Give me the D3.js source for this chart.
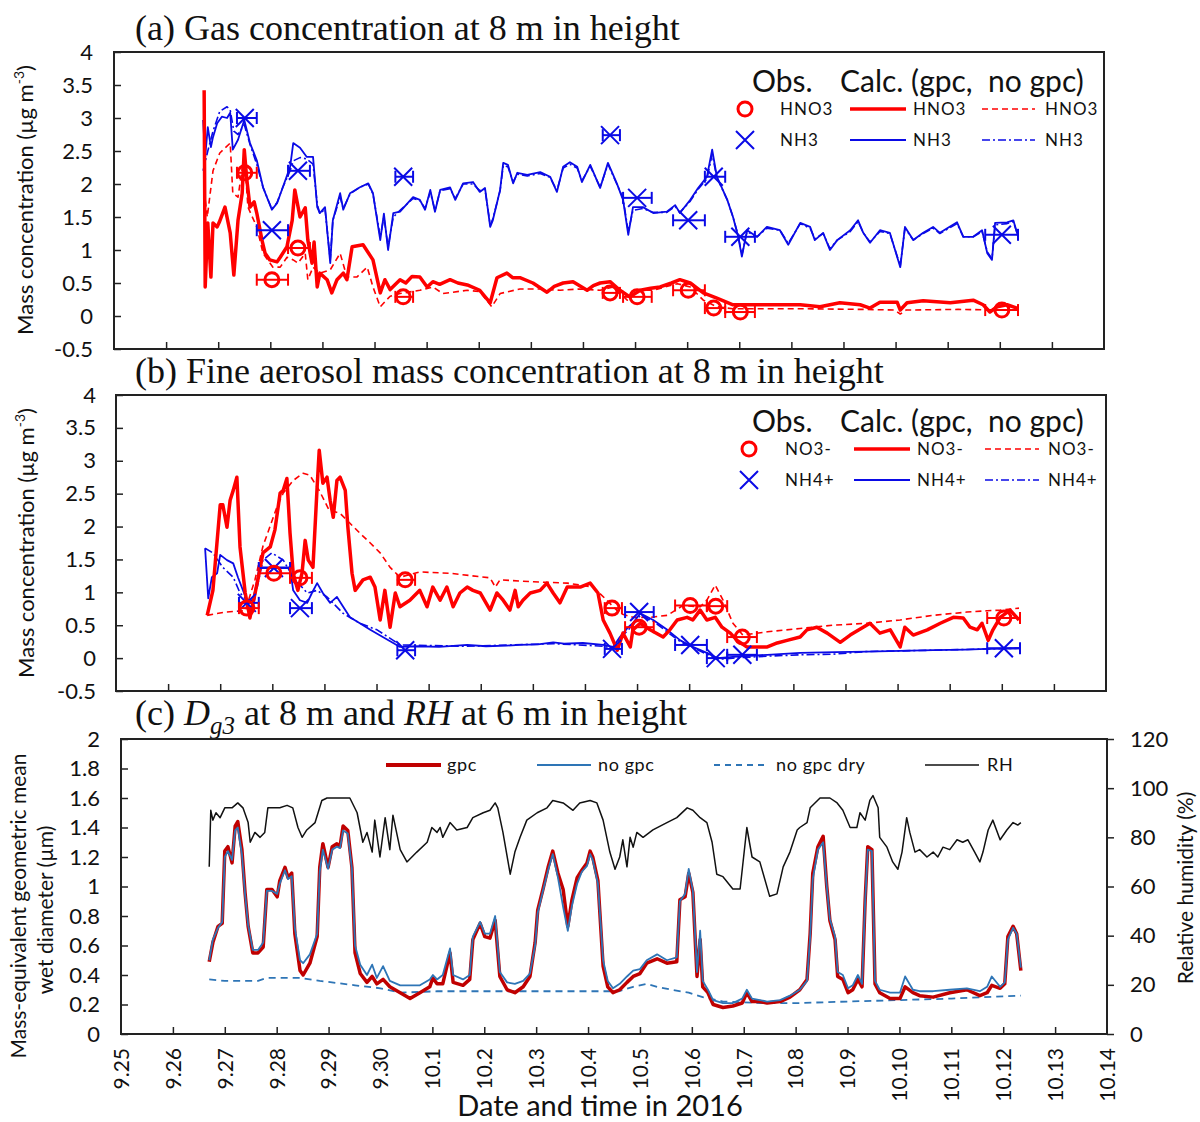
<!DOCTYPE html>
<html>
<head>
<meta charset="utf-8">
<script src="https://cdn.jsdelivr.net/npm/d3@7"></script>
<style>
  body { margin: 0; background: #fff; }
  text { white-space: pre; }
</style>
</head>
<body>
<svg id="chart" width="1200" height="1122"></svg>
<script>
// ---- x axis: days since 25 Sep 2016, 00:00 ----
const dateLabels = ["9.25","9.26","9.27","9.28","9.29","9.30","10.1","10.2","10.3","10.4",
  "10.5","10.6","10.7","10.8","10.9","10.10","10.11","10.12","10.13","10.14"];

// ---- observation periods (filter sampling) ----
const obsDay = [2.51, 3.03, 3.53, 5.55, 9.52, 10.04, 11.02, 11.51, 12.02, 17.04];
const obsLo  = [2.36, 2.74, 3.34, 5.40, 9.38, 9.77, 10.73, 11.34, 11.73, 16.72];
const obsHi  = [2.74, 3.34, 3.76, 5.74, 9.71, 10.32, 11.34, 11.73, 12.30, 17.35];

// observed gases (µg m-3)
const hno3Obs = [2.17, 0.55, 1.03, 0.29, 0.35, 0.29, 0.39, 0.12, 0.06, 0.09];
const nh3Obs  = [3.00, 1.30, 2.20, 2.11, 2.74, 1.79, 1.45, 2.11, 1.20, 1.23];
// observed fine aerosol (µg m-3)
const no3Obs  = [0.76, 1.29, 1.22, 1.19, 0.76, 0.47, 0.80, 0.79, 0.32, 0.61];
const nh4Obs  = [0.84, 1.37, 0.76, 0.12, 0.14, 0.70, 0.20, 0.00, 0.05, 0.15];

// ---- calculated gases [day, µg m-3] ----
const hno3Gpc = [[1.73,3.42],[1.75,0.44],[1.80,1.41],[1.86,0.59],[1.90,1.41],[1.98,1.35],[2.02,1.42],[2.13,1.65],[2.23,1.26],[2.30,0.62],[2.38,1.45],[2.46,1.86],[2.50,2.52],[2.55,2.06],[2.61,1.65],[2.69,1.73],[2.74,1.56],[2.84,1.15],[2.90,0.95],[2.99,0.85],[3.13,0.82],[3.19,0.89],[3.32,1.05],[3.42,1.45],[3.47,1.91],[3.57,1.50],[3.67,1.64],[3.72,1.15],[3.80,0.80],[3.84,1.12],[3.90,0.44],[3.95,0.65],[4.09,0.55],[4.18,0.35],[4.28,0.55],[4.40,0.65],[4.47,0.55],[4.57,1.05],[4.78,1.08],[4.97,0.85],[5.11,0.35],[5.20,0.55],[5.30,0.40],[5.49,0.55],[5.60,0.50],[5.72,0.60],[5.87,0.59],[6.01,0.44],[6.12,0.52],[6.25,0.48],[6.45,0.55],[6.60,0.50],[6.78,0.47],[7.02,0.39],[7.22,0.20],[7.35,0.58],[7.54,0.65],[7.65,0.58],[7.79,0.58],[8.04,0.50],[8.31,0.36],[8.45,0.45],[8.62,0.50],[8.81,0.52],[9.08,0.39],[9.20,0.46],[9.33,0.50],[9.52,0.52],[9.71,0.39],[9.90,0.29],[10.10,0.39],[10.30,0.42],[10.48,0.44],[10.70,0.50],[10.86,0.55],[11.06,0.50],[11.31,0.35],[11.57,0.27],[11.88,0.17],[12.21,0.17],[13.17,0.17],[13.55,0.14],[13.93,0.20],[14.32,0.17],[14.51,0.12],[14.70,0.21],[15.03,0.21],[15.09,0.09],[15.22,0.20],[15.53,0.23],[16.05,0.20],[16.49,0.24],[16.68,0.17],[16.81,0.06],[16.95,0.14],[17.14,0.17],[17.33,0.12],[17.35,0.12]];

const hno3NoGpc = [[1.73,1.90],[1.79,1.50],[1.90,2.20],[2.03,2.47],[2.23,2.62],[2.28,1.86],[2.38,1.80],[2.50,2.45],[2.57,1.65],[2.74,1.35],[2.86,0.95],[3.05,0.74],[3.19,0.74],[3.32,0.89],[3.44,0.85],[3.53,0.80],[3.67,0.95],[3.72,0.55],[3.82,0.74],[3.95,0.65],[4.15,0.70],[4.34,0.95],[4.47,0.59],[4.66,0.59],[4.86,0.74],[4.97,0.44],[5.11,0.14],[5.30,0.30],[5.49,0.34],[5.87,0.39],[6.12,0.44],[6.31,0.34],[6.78,0.39],[7.02,0.37],[7.25,0.14],[7.41,0.34],[7.79,0.41],[8.18,0.41],[8.56,0.39],[8.94,0.41],[9.33,0.39],[9.58,0.44],[9.85,0.24],[9.96,0.39],[10.35,0.39],[10.81,0.49],[11.06,0.44],[11.31,0.24],[11.57,0.14],[11.88,0.11],[13.17,0.11],[14.40,0.10],[14.98,0.09],[15.09,0.03],[15.20,0.09],[16.20,0.10],[17.01,0.09],[17.35,0.09]];

const nh3Gpc = [[1.71,2.97],[1.75,2.41],[1.80,2.86],[1.86,2.56],[1.90,2.71],[1.98,2.92],[2.07,3.02],[2.17,3.00],[2.23,3.08],[2.28,2.52],[2.38,2.67],[2.50,2.97],[2.61,2.62],[2.74,2.36],[2.86,1.95],[3.03,1.61],[3.13,1.71],[3.24,1.95],[3.38,2.26],[3.44,2.62],[3.57,2.55],[3.70,2.41],[3.82,2.41],[3.90,1.65],[3.95,1.56],[4.05,1.65],[4.15,0.80],[4.20,1.45],[4.34,1.86],[4.40,1.61],[4.53,1.86],[4.72,1.95],[4.88,2.01],[4.97,1.86],[5.11,1.15],[5.18,1.55],[5.26,1.00],[5.36,1.56],[5.49,1.58],[5.74,1.80],[5.87,1.76],[5.97,1.61],[6.07,1.91],[6.16,1.58],[6.26,1.91],[6.45,1.95],[6.55,1.76],[6.70,2.01],[6.89,2.03],[7.02,1.88],[7.12,1.94],[7.22,1.35],[7.27,1.45],[7.41,1.91],[7.47,2.32],[7.56,2.29],[7.66,2.01],[7.74,2.17],[7.93,2.14],[8.18,2.18],[8.37,2.11],[8.50,1.88],[8.62,2.26],[8.75,2.33],[8.89,2.26],[8.98,2.03],[9.14,2.29],[9.33,1.94],[9.48,2.32],[9.65,2.01],[9.77,1.76],[9.87,1.23],[9.96,1.65],[10.15,1.65],[10.35,1.56],[10.61,1.58],[10.77,1.68],[10.86,1.56],[11.06,1.76],[11.21,1.94],[11.38,2.11],[11.48,2.52],[11.57,2.11],[11.77,1.76],[11.88,1.50],[11.98,1.20],[12.05,0.90],[12.15,1.30],[12.34,1.20],[12.53,1.35],[12.78,1.30],[12.94,1.08],[13.17,1.41],[13.36,1.35],[13.45,1.15],[13.61,1.26],[13.74,1.00],[13.88,1.15],[14.13,1.30],[14.28,1.45],[14.38,1.26],[14.51,1.11],[14.70,1.30],[14.89,1.26],[15.09,0.74],[15.18,1.35],[15.34,1.15],[15.53,1.26],[15.72,1.35],[15.85,1.26],[16.18,1.42],[16.30,1.20],[16.49,1.20],[16.66,1.30],[16.76,0.95],[16.85,0.85],[16.91,1.41],[17.14,1.42],[17.26,1.45],[17.33,1.26],[17.35,1.20]];

const nh3NoGpc = [[1.71,2.20],[1.80,2.50],[1.90,2.80],[2.03,3.10],[2.17,3.17],[2.23,3.12],[2.30,2.80],[2.38,2.75],[2.50,2.90],[2.61,2.60],[2.74,2.30],[2.86,1.95],[3.03,1.62],[3.13,1.72],[3.24,1.95],[3.38,2.20],[3.44,2.35],[3.57,2.40],[3.70,2.38],[3.82,2.30],[3.90,1.70],[3.95,1.55],[4.05,1.62],[4.15,0.85],[4.20,1.45],[4.34,1.80],[4.40,1.63],[4.53,1.85],[4.72,1.95],[4.88,2.00],[4.97,1.85],[5.11,1.20],[5.18,1.50],[5.26,1.05],[5.36,1.50],[5.49,1.60],[5.74,1.78],[5.87,1.75],[5.97,1.63],[6.07,1.88],[6.16,1.60],[6.26,1.90],[6.45,1.93],[6.55,1.78],[6.70,2.00],[6.89,2.00],[7.02,1.90],[7.12,1.92],[7.22,1.38],[7.27,1.47],[7.41,1.90],[7.47,2.28],[7.56,2.26],[7.66,2.03],[7.74,2.15],[7.93,2.12],[8.18,2.16],[8.37,2.10],[8.50,1.90],[8.62,2.24],[8.75,2.30],[8.89,2.24],[8.98,2.05],[9.14,2.27],[9.33,1.95],[9.48,2.30],[9.65,2.00],[9.77,1.78],[9.87,1.28],[9.96,1.60],[10.15,1.63],[10.35,1.57],[10.61,1.57],[10.77,1.66],[10.86,1.57],[11.06,1.74],[11.21,1.92],[11.38,2.08],[11.48,2.45],[11.57,2.10],[11.77,1.76],[11.88,1.50],[11.98,1.22],[12.05,0.92],[12.15,1.28],[12.34,1.20],[12.53,1.33],[12.78,1.30],[12.94,1.10],[13.17,1.40],[13.36,1.33],[13.45,1.17],[13.61,1.25],[13.74,1.02],[13.88,1.15],[14.13,1.28],[14.28,1.43],[14.38,1.26],[14.51,1.12],[14.70,1.28],[14.89,1.25],[15.09,0.76],[15.18,1.33],[15.34,1.15],[15.53,1.25],[15.72,1.33],[15.85,1.25],[16.18,1.40],[16.30,1.20],[16.49,1.20],[16.66,1.28],[16.76,0.97],[16.85,0.87],[16.91,1.38],[17.14,1.40],[17.26,1.43],[17.33,1.26],[17.35,1.22]];

// ---- calculated fine aerosol [day, µg m-3] ----
const no3Gpc = [[1.75,0.65],[1.86,1.03],[2.00,2.33],[2.05,2.33],[2.13,1.99],[2.19,2.40],[2.25,2.55],[2.32,2.75],[2.38,1.69],[2.48,0.99],[2.57,0.61],[2.67,0.99],[2.76,1.34],[2.82,1.60],[2.96,1.69],[3.05,1.95],[3.15,2.51],[3.21,2.55],[3.28,2.73],[3.34,1.90],[3.40,1.29],[3.49,1.03],[3.57,1.29],[3.63,1.79],[3.69,1.49],[3.78,1.38],[3.86,2.60],[3.90,3.16],[3.97,2.66],[4.05,2.75],[4.11,2.40],[4.17,2.14],[4.24,2.70],[4.30,2.75],[4.40,2.55],[4.45,1.99],[4.53,1.29],[4.59,1.03],[4.74,1.19],[4.88,1.23],[4.97,1.08],[5.07,0.58],[5.16,1.03],[5.26,0.47],[5.36,0.99],[5.45,0.78],[5.64,0.88],[5.83,1.03],[5.97,0.78],[6.08,1.08],[6.22,0.88],[6.35,1.08],[6.47,0.78],[6.60,0.99],[6.74,1.08],[6.85,1.03],[6.99,0.99],[7.18,0.73],[7.31,0.99],[7.43,0.88],[7.56,0.73],[7.66,1.03],[7.72,0.78],[7.81,0.88],[7.95,0.99],[8.14,1.03],[8.27,1.14],[8.39,0.99],[8.52,0.84],[8.66,1.08],[8.91,1.08],[9.10,1.14],[9.25,0.99],[9.35,0.58],[9.48,0.38],[9.62,0.12],[9.73,0.38],[9.87,0.17],[9.92,0.43],[10.06,0.53],[10.25,0.43],[10.50,0.32],[10.63,0.43],[10.77,0.58],[10.96,0.62],[11.07,0.58],[11.21,0.73],[11.34,0.58],[11.50,0.62],[11.63,0.47],[11.79,0.38],[11.92,0.27],[12.11,0.17],[12.50,0.17],[12.69,0.23],[12.88,0.27],[13.13,0.32],[13.26,0.43],[13.45,0.47],[13.65,0.38],[13.90,0.24],[14.09,0.35],[14.34,0.47],[14.47,0.53],[14.66,0.38],[14.86,0.43],[15.05,0.17],[15.14,0.47],[15.30,0.35],[15.57,0.43],[15.82,0.53],[16.07,0.62],[16.26,0.61],[16.39,0.47],[16.53,0.43],[16.62,0.53],[16.74,0.27],[16.83,0.43],[16.97,0.62],[17.16,0.73],[17.33,0.58]];

const no3NoGpc = [[1.75,0.65],[2.10,0.70],[2.48,0.72],[2.67,1.20],[2.82,1.70],[3.09,2.30],[3.21,2.51],[3.40,2.70],[3.59,2.81],[3.72,2.78],[3.90,2.55],[4.09,2.25],[4.30,2.20],[4.49,2.05],[4.68,1.90],[4.88,1.75],[5.07,1.60],[5.26,1.38],[5.45,1.23],[5.83,1.31],[6.41,1.29],[7.18,1.22],[7.28,1.08],[7.37,1.19],[8.01,1.16],[8.66,1.14],[9.16,1.08],[9.42,0.88],[9.67,0.68],[9.92,0.62],[10.25,0.62],[10.58,0.65],[10.88,0.80],[11.21,0.78],[11.34,0.88],[11.50,1.11],[11.65,0.88],[11.84,0.53],[12.03,0.35],[12.50,0.40],[13.13,0.45],[13.76,0.50],[14.41,0.53],[15.05,0.58],[15.68,0.65],[16.33,0.70],[16.72,0.72],[16.97,0.73],[17.33,0.76]];

const nh4Gpc = [[1.71,1.67],[1.77,0.91],[1.84,1.23],[1.94,1.29],[2.00,1.57],[2.13,1.49],[2.25,1.44],[2.34,1.23],[2.51,0.88],[2.63,0.88],[2.76,1.38],[2.90,1.38],[3.09,1.38],[3.34,1.38],[3.40,1.03],[3.53,0.88],[3.67,0.84],[3.76,0.99],[3.86,1.14],[3.97,0.99],[4.11,0.84],[4.24,0.93],[4.36,0.78],[4.49,0.62],[4.68,0.53],[4.88,0.43],[5.12,0.32],[5.32,0.23],[5.45,0.17],[5.80,0.18],[6.20,0.17],[6.74,0.20],[7.10,0.18],[7.50,0.19],[7.75,0.20],[8.10,0.21],[8.39,0.24],[8.60,0.22],[8.96,0.23],[9.35,0.20],[9.54,0.17],[9.67,0.32],[9.83,0.47],[9.92,0.53],[10.06,0.68],[10.31,0.58],[10.58,0.43],[10.83,0.27],[11.07,0.17],[11.34,0.08],[11.54,0.00],[11.84,0.02],[12.50,0.05],[13.13,0.08],[13.80,0.09],[14.41,0.10],[15.05,0.11],[15.68,0.12],[16.30,0.13],[16.72,0.14],[17.33,0.15]];

const nh4NoGpc = [[1.71,1.67],[1.86,1.60],[2.05,1.38],[2.25,1.23],[2.38,0.99],[2.63,0.78],[2.82,1.49],[2.99,1.60],[3.21,1.49],[3.40,1.23],[3.67,0.99],[3.86,1.03],[4.05,0.93],[4.36,0.68],[4.68,0.53],[5.01,0.43],[5.32,0.27],[5.45,0.20],[6.74,0.18],[8.39,0.22],[9.35,0.18],[9.54,0.15],[9.67,0.30],[9.92,0.50],[10.06,0.65],[10.31,0.56],[10.83,0.25],[11.34,0.06],[11.54,-0.02],[11.84,0.00],[12.50,0.03],[13.13,0.05],[13.76,0.06],[14.41,0.10],[15.68,0.12],[17.33,0.15]];

// ---- Dg3 [day, µm] and RH [day, %] ----
const dg3Gpc = [[1.70,0.49],[1.77,0.62],[1.87,0.73],[1.95,0.75],[2.00,1.24],[2.06,1.27],[2.14,1.16],[2.20,1.41],[2.25,1.44],[2.33,1.25],[2.39,0.96],[2.45,0.73],[2.54,0.55],[2.64,0.55],[2.74,0.59],[2.81,0.98],[2.91,0.98],[3.01,0.93],[3.06,1.04],[3.16,1.13],[3.22,1.06],[3.29,1.09],[3.35,0.68],[3.45,0.43],[3.51,0.40],[3.64,0.48],[3.78,0.66],[3.83,1.13],[3.89,1.29],[3.99,1.13],[4.07,1.27],[4.16,1.29],[4.22,1.27],[4.28,1.41],[4.37,1.38],[4.45,1.13],[4.51,0.55],[4.61,0.41],[4.74,0.35],[4.84,0.39],[4.93,0.34],[5.05,0.37],[5.18,0.32],[5.38,0.28],[5.57,0.24],[5.76,0.28],[5.95,0.32],[6.01,0.38],[6.09,0.34],[6.20,0.34],[6.34,0.55],[6.40,0.35],[6.59,0.33],[6.72,0.37],[6.78,0.64],[6.92,0.75],[7.01,0.66],[7.11,0.65],[7.21,0.77],[7.30,0.39],[7.44,0.30],[7.59,0.28],[7.75,0.32],[7.88,0.39],[7.98,0.62],[8.03,0.84],[8.13,0.98],[8.23,1.13],[8.32,1.24],[8.42,1.09],[8.52,0.98],[8.61,0.73],[8.69,0.91],[8.79,1.06],[8.88,1.11],[8.98,1.16],[9.04,1.24],[9.09,1.20],[9.19,1.04],[9.29,0.46],[9.38,0.32],[9.48,0.28],[9.61,0.30],[9.75,0.35],[9.87,0.39],[10.00,0.41],[10.13,0.48],[10.33,0.51],[10.52,0.48],[10.71,0.49],[10.77,0.91],[10.87,0.93],[10.94,1.09],[11.02,0.96],[11.10,0.39],[11.16,0.64],[11.21,0.32],[11.31,0.28],[11.41,0.20],[11.60,0.18],[11.79,0.19],[11.97,0.21],[12.06,0.28],[12.16,0.22],[12.31,0.22],[12.45,0.21],[12.70,0.22],[12.89,0.25],[13.08,0.30],[13.22,0.37],[13.28,0.68],[13.33,1.09],[13.43,1.27],[13.53,1.34],[13.60,1.00],[13.66,0.77],[13.76,0.64],[13.81,0.39],[13.91,0.37],[14.01,0.28],[14.10,0.30],[14.20,0.37],[14.28,0.32],[14.34,0.91],[14.39,1.27],[14.47,1.25],[14.53,0.34],[14.62,0.28],[14.82,0.24],[15.01,0.24],[15.11,0.32],[15.26,0.28],[15.39,0.26],[15.65,0.25],[15.97,0.28],[16.30,0.30],[16.55,0.26],[16.69,0.28],[16.78,0.33],[16.94,0.31],[17.03,0.34],[17.09,0.66],[17.19,0.73],[17.26,0.68],[17.34,0.43]];

const dg3NoGpc = [[1.70,0.50],[1.77,0.64],[1.87,0.72],[1.95,0.76],[2.00,1.20],[2.06,1.24],[2.14,1.18],[2.20,1.38],[2.25,1.40],[2.33,1.22],[2.39,0.95],[2.45,0.74],[2.54,0.57],[2.64,0.57],[2.74,0.62],[2.81,0.97],[2.91,0.97],[3.01,0.95],[3.06,1.02],[3.16,1.11],[3.22,1.05],[3.29,1.07],[3.35,0.72],[3.45,0.50],[3.51,0.48],[3.64,0.54],[3.78,0.68],[3.83,1.10],[3.89,1.25],[3.99,1.12],[4.07,1.25],[4.16,1.27],[4.22,1.26],[4.28,1.38],[4.37,1.36],[4.45,1.12],[4.51,0.60],[4.61,0.47],[4.74,0.40],[4.84,0.47],[4.93,0.38],[5.05,0.46],[5.18,0.36],[5.38,0.33],[5.57,0.33],[5.76,0.33],[5.95,0.37],[6.01,0.40],[6.09,0.37],[6.20,0.40],[6.34,0.58],[6.40,0.40],[6.59,0.37],[6.72,0.40],[6.78,0.66],[6.92,0.76],[7.01,0.68],[7.11,0.68],[7.21,0.80],[7.30,0.42],[7.44,0.35],[7.59,0.34],[7.75,0.36],[7.88,0.41],[7.98,0.60],[8.03,0.82],[8.13,0.97],[8.23,1.11],[8.32,1.22],[8.42,1.06],[8.52,0.86],[8.61,0.70],[8.69,0.87],[8.79,1.02],[8.88,1.10],[8.98,1.14],[9.04,1.22],[9.09,1.18],[9.19,1.02],[9.29,0.50],[9.38,0.36],[9.48,0.31],[9.61,0.34],[9.75,0.39],[9.87,0.43],[10.00,0.44],[10.13,0.50],[10.33,0.54],[10.52,0.50],[10.71,0.52],[10.77,0.90],[10.87,0.95],[10.94,1.12],[11.02,0.97],[11.10,0.42],[11.16,0.70],[11.21,0.36],[11.31,0.30],[11.41,0.23],[11.60,0.21],[11.79,0.21],[11.97,0.24],[12.06,0.30],[12.16,0.24],[12.31,0.23],[12.45,0.22],[12.70,0.23],[12.89,0.26],[13.08,0.30],[13.22,0.36],[13.28,0.66],[13.33,1.05],[13.43,1.25],[13.53,1.30],[13.60,1.00],[13.66,0.78],[13.76,0.66],[13.81,0.42],[13.91,0.40],[14.01,0.31],[14.10,0.33],[14.20,0.40],[14.28,0.34],[14.34,0.90],[14.39,1.25],[14.47,1.24],[14.53,0.36],[14.62,0.30],[14.82,0.28],[15.01,0.28],[15.11,0.39],[15.26,0.30],[15.39,0.29],[15.65,0.29],[15.97,0.30],[16.30,0.31],[16.55,0.29],[16.69,0.32],[16.78,0.39],[16.94,0.32],[17.03,0.35],[17.09,0.64],[17.19,0.72],[17.26,0.68],[17.34,0.45]];

const dg3Dry = [[1.70,0.37],[2.00,0.36],[2.64,0.36],[2.81,0.38],[3.45,0.38],[3.83,0.36],[4.51,0.33],[5.00,0.31],[5.38,0.28],[6.09,0.29],[7.00,0.29],[8.00,0.29],[9.00,0.29],[9.60,0.29],[9.87,0.32],[10.13,0.34],[10.33,0.32],[10.61,0.30],[10.94,0.28],[11.21,0.25],[11.60,0.22],[12.31,0.21],[13.08,0.21],[14.00,0.22],[15.01,0.23],[16.00,0.24],[17.34,0.26]];

const rh = [[1.70,68],[1.73,91],[1.77,87],[1.83,90],[1.91,88],[2.00,92],[2.14,92],[2.25,94],[2.35,92],[2.45,86],[2.49,78],[2.58,82],[2.68,80],[2.77,82],[2.83,92],[2.93,92],[3.06,92],[3.20,93],[3.31,92],[3.41,84],[3.49,80],[3.58,83],[3.74,86],[3.87,95],[3.97,96],[4.08,96],[4.22,96],[4.41,96],[4.55,90],[4.66,78],[4.74,82],[4.84,74],[4.89,87],[4.99,72],[5.09,88],[5.18,75],[5.24,89],[5.38,75],[5.51,70],[5.70,74],[5.90,78],[5.99,84],[6.09,82],[6.15,84],[6.20,80],[6.34,86],[6.47,83],[6.67,84],[6.78,88],[6.98,90],[7.11,91],[7.21,94],[7.26,92],[7.36,82],[7.50,65],[7.59,74],[7.69,80],[7.82,87],[8.02,90],[8.21,92],[8.32,95],[8.52,94],[8.71,91],[8.84,94],[9.04,95],[9.17,94],[9.29,87],[9.42,74],[9.52,67],[9.61,72],[9.67,79],[9.75,68],[9.81,80],[9.87,76],[9.94,82],[10.06,80],[10.25,83],[10.52,86],[10.71,88],[10.91,92],[11.02,91],[11.16,88],[11.29,86],[11.39,78],[11.48,65],[11.60,64],[11.79,59],[11.93,59],[12.06,84],[12.16,72],[12.31,70],[12.50,56],[12.64,57],[12.76,68],[12.89,74],[13.03,83],[13.08,84],[13.22,86],[13.28,92],[13.47,96],[13.66,96],[13.80,94],[13.91,91],[14.05,84],[14.18,84],[14.24,90],[14.34,87],[14.43,95],[14.49,97],[14.59,92],[14.62,80],[14.76,76],[14.87,70],[14.97,67],[15.05,74],[15.14,88],[15.20,82],[15.30,74],[15.39,75],[15.53,72],[15.65,74],[15.74,72],[15.84,76],[15.97,75],[16.11,79],[16.22,78],[16.32,79],[16.45,74],[16.55,70],[16.61,74],[16.71,83],[16.80,87],[16.94,79],[17.07,83],[17.19,86],[17.28,85],[17.34,86]];

// tick values
const concTicks = [-0.5, 0, 0.5, 1, 1.5, 2, 2.5, 3, 3.5, 4];
const dgTicks = [0, 0.2, 0.4, 0.6, 0.8, 1, 1.2, 1.4, 1.6, 1.8, 2];
const rhTicks = [0, 20, 40, 60, 80, 100, 120];

// ---- drawing ----
const SANS = "Lato, 'Open Sans', sans-serif";
const SERIF = "'Liberation Serif', 'Times New Roman', serif";
const RED = "#ff0000", BLUE = "#0a0ae6";
const svg = d3.select("#chart");

function frameAxes(box, yDomain, yTicks, padY) {
  const x = d3.scaleLinear().domain([0, 19]).range([box.l, box.r]);
  const y = d3.scaleLinear().domain(yDomain).range([box.b, box.t]);
  const g = svg.append("g");
  const yAx = g.append("g").attr("transform", `translate(${box.l},0)`)
    .call(d3.axisLeft(y).tickValues(yTicks).tickSizeInner(-7).tickSizeOuter(0)
      .tickPadding(padY).tickFormat(d => String(d)));
  yAx.select(".domain").remove();
  yAx.selectAll("text").attr("font-family", SANS).attr("font-size", 22).attr("fill", "#111");
  yAx.selectAll("line").attr("stroke", "#222").attr("stroke-width", 1.5);
  const xAx = g.append("g").attr("transform", `translate(0,${box.b})`)
    .call(d3.axisBottom(x).tickValues(d3.range(1, 19)).tickSizeInner(-7).tickSizeOuter(0).tickFormat(""));
  xAx.select(".domain").remove();
  xAx.selectAll("line").attr("stroke", "#222").attr("stroke-width", 1.5);
  g.append("rect").attr("x", box.l).attr("y", box.t).attr("width", box.r - box.l)
    .attr("height", box.b - box.t).attr("fill", "none").attr("stroke", "#222").attr("stroke-width", 2);
  return { x, y, g, xAx };
}

function drawLine(g, x, y, data, color, width, dash) {
  g.append("path").datum(data)
    .attr("d", d3.line().x(d => x(d[0])).y(d => y(d[1])))
    .attr("fill", "none").attr("stroke", color).attr("stroke-width", width)
    .attr("stroke-linejoin", "round")
    .attr("stroke-dasharray", dash || null);
}

function errorBars(g, x, y, vals, color) {
  vals.forEach((v, i) => {
    const yy = y(v), x0 = x(obsLo[i]), x1 = x(obsHi[i]);
    g.append("line").attr("x1", x0).attr("x2", x1).attr("y1", yy).attr("y2", yy)
      .attr("stroke", color).attr("stroke-width", 2);
    [x0, x1].forEach(xx => g.append("line").attr("x1", xx).attr("x2", xx)
      .attr("y1", yy - 6).attr("y2", yy + 6).attr("stroke", color).attr("stroke-width", 2));
  });
}
function circleMark(g, cx, cy) {
  g.append("circle").attr("cx", cx).attr("cy", cy).attr("r", 7)
    .attr("fill", "none").attr("stroke", RED).attr("stroke-width", 3);
}
function crossMark(g, cx, cy) {
  const s = 9;
  g.append("path").attr("d", `M${cx - s},${cy - s}L${cx + s},${cy + s}M${cx - s},${cy + s}L${cx + s},${cy - s}`)
    .attr("stroke", BLUE).attr("stroke-width", 2).attr("fill", "none");
}

function title(yBase, parts) {
  const t = svg.append("text").attr("x", 135).attr("y", yBase)
    .attr("font-family", SERIF).attr("font-size", 36).attr("fill", "#111");
  parts.forEach(p => {
    const s = t.append("tspan").text(p.t);
    if (p.i) s.attr("font-style", "italic");
    if (p.sub) s.attr("font-size", 25).attr("dy", 9);
    if (p.up) s.attr("dy", -9);
  });
}

function concTitle(cx, cy) {
  const t = svg.append("text").attr("transform", `translate(${cx},${cy}) rotate(-90)`)
    .attr("text-anchor", "middle").attr("font-family", SANS).attr("font-size", 22).attr("fill", "#111");
  t.append("tspan").text("Mass concentration (µg m");
  t.append("tspan").text("-3").attr("font-size", 14).attr("dy", -9);
  t.append("tspan").text(")").attr("dy", 9);
}

function gasLegend(g, L) {
  g.append("text").attr("x", L.obsTx).attr("y", L.hy).attr("font-family", SANS).attr("font-size", 30)
    .attr("fill", "#111").text("Obs.");
  g.append("text").attr("x", L.calcTx).attr("y", L.hy).attr("font-family", SANS).attr("font-size", 30)
    .attr("fill", "#111").text("Calc. (gpc,  no gpc)");
  L.rows.forEach(r => {
    if (r.mark === "o") circleMark(g, L.mx, r.y); else crossMark(g, L.mx, r.y);
    const lab = (xx) => g.append("text").attr("x", xx).attr("y", r.y).attr("dy", "0.35em")
      .attr("font-family", SANS).attr("font-size", 17).attr("fill", "#111").attr("letter-spacing", 1).text(r.label);
    lab(L.t1);
    g.append("line").attr("x1", L.l1[0]).attr("x2", L.l1[1]).attr("y1", r.y).attr("y2", r.y)
      .attr("stroke", r.color).attr("stroke-width", r.w);
    lab(L.t2);
    g.append("line").attr("x1", L.l2[0]).attr("x2", L.l2[1]).attr("y1", r.y).attr("y2", r.y)
      .attr("stroke", r.color).attr("stroke-width", 1.6).attr("stroke-dasharray", r.dash);
    lab(L.t3);
  });
}

// ===== panel (a): gases =====
title(40, [{ t: "(a) Gas concentration at 8 m in height" }]);
{
  const { x, y, g } = frameAxes({ l: 114, r: 1104, t: 52, b: 349 }, [-0.5, 4], concTicks, 21);
  drawLine(g, x, y, hno3NoGpc, RED, 1.6, "6,4");
  drawLine(g, x, y, nh3NoGpc, BLUE, 1.6, "8,3,2,3");
  drawLine(g, x, y, nh3Gpc, BLUE, 1.8);
  drawLine(g, x, y, hno3Gpc, RED, 3.5);
  errorBars(g, x, y, nh3Obs, BLUE);
  nh3Obs.forEach((v, i) => crossMark(g, x(obsDay[i]), y(v)));
  errorBars(g, x, y, hno3Obs, RED);
  hno3Obs.forEach((v, i) => circleMark(g, x(obsDay[i]), y(v)));
  gasLegend(g, {
    obsTx: 752, calcTx: 840, hy: 92, mx: 745, t1: 780, l1: [850, 906], t2: 913, l2: [982, 1035], t3: 1045,
    rows: [
      { y: 109, mark: "o", label: "HNO3", color: RED, w: 3.5, dash: "6,4" },
      { y: 140, mark: "x", label: "NH3", color: BLUE, w: 1.8, dash: "8,3,2,3" }
    ]
  });
  concTitle(33, 200);
}

// ===== panel (b): fine aerosol =====
title(383, [{ t: "(b) Fine aerosol mass concentration at 8 m in height" }]);
{
  const { x, y, g } = frameAxes({ l: 116, r: 1106, t: 395, b: 691 }, [-0.5, 4], concTicks, 20);
  drawLine(g, x, y, no3NoGpc, RED, 1.6, "6,4");
  drawLine(g, x, y, nh4NoGpc, BLUE, 1.6, "8,3,2,3");
  drawLine(g, x, y, nh4Gpc, BLUE, 1.8);
  drawLine(g, x, y, no3Gpc, RED, 3.5);
  errorBars(g, x, y, nh4Obs, BLUE);
  nh4Obs.forEach((v, i) => crossMark(g, x(obsDay[i]), y(v)));
  errorBars(g, x, y, no3Obs, RED);
  no3Obs.forEach((v, i) => circleMark(g, x(obsDay[i]), y(v)));
  gasLegend(g, {
    obsTx: 752, calcTx: 840, hy: 432, mx: 749, t1: 785, l1: [854, 910], t2: 917, l2: [985, 1039], t3: 1048,
    rows: [
      { y: 449, mark: "o", label: "NO3-", color: RED, w: 3.5, dash: "6,4" },
      { y: 480, mark: "x", label: "NH4+", color: BLUE, w: 1.8, dash: "8,3,2,3" }
    ]
  });
  concTitle(34, 543);
}

// ===== panel (c): Dg3 and RH =====
title(725, [{ t: "(c) " }, { t: "D", i: true }, { t: "g3", i: true, sub: true }, { t: " at 8 m and ", up: true },
  { t: "RH", i: true }, { t: " at 6 m in height" }]);
{
  const box = { l: 121, r: 1107, t: 739, b: 1034 };
  const { x, y, g } = frameAxes(box, [0, 2], dgTicks, 21);
  const yR = d3.scaleLinear().domain([0, 120]).range([box.b, box.t]);
  const rAx = g.append("g").attr("transform", `translate(${box.r},0)`)
    .call(d3.axisRight(yR).tickValues(rhTicks).tickSizeInner(7).tickSizeOuter(0).tickPadding(16));
  rAx.select(".domain").remove();
  rAx.selectAll("text").attr("font-family", SANS).attr("font-size", 22).attr("fill", "#111");
  rAx.selectAll("line").attr("stroke", "#222").attr("stroke-width", 1.5);

  // date labels under the bottom axis
  const lab = g.append("g").attr("transform", `translate(0,${box.b})`)
    .call(d3.axisBottom(x).tickValues(d3.range(0, 20)).tickSize(0).tickFormat(i => dateLabels[i]));
  lab.select(".domain").remove();
  lab.selectAll("text").attr("transform", "rotate(-90)").attr("text-anchor", "end")
    .attr("x", -14).attr("y", 0).attr("dy", "0.35em")
    .attr("font-family", SANS).attr("font-size", 21).attr("fill", "#111");

  drawLine(g, x, yR, rh, "#111", 1.5);
  drawLine(g, x, y, dg3Dry, "#2e75b6", 1.8, "7,5");
  drawLine(g, x, y, dg3Gpc, "#c00000", 3.5);
  drawLine(g, x, y, dg3NoGpc, "#2e75b6", 1.8);

  // legend
  const ly = 765;
  const items = [
    { x0: 386, x1: 441, tx: 447, label: "gpc", color: "#c00000", w: 4 },
    { x0: 537, x1: 591, tx: 598, label: "no gpc", color: "#2e75b6", w: 2 },
    { x0: 714, x1: 766, tx: 776, label: "no gpc dry", color: "#2e75b6", w: 2, dash: "6,5" },
    { x0: 925, x1: 979, tx: 987, label: "RH", color: "#111", w: 1.5 }
  ];
  items.forEach(it => {
    g.append("line").attr("x1", it.x0).attr("x2", it.x1).attr("y1", ly).attr("y2", ly)
      .attr("stroke", it.color).attr("stroke-width", it.w).attr("stroke-dasharray", it.dash || null);
    g.append("text").attr("x", it.tx).attr("y", ly).attr("dy", "0.35em").attr("font-family", SANS)
      .attr("font-size", 18).attr("letter-spacing", 0.6).attr("fill", "#111").text(it.label);
  });

  // axis titles
  svg.append("text").attr("transform", "translate(26,906) rotate(-90)").attr("text-anchor", "middle")
    .attr("font-family", SANS).attr("font-size", 21).attr("fill", "#111").text("Mass-equivalent geometric mean");
  svg.append("text").attr("transform", "translate(53,910) rotate(-90)").attr("text-anchor", "middle")
    .attr("font-family", SANS).attr("font-size", 21).attr("fill", "#111").text("wet diameter (µm)");
  svg.append("text").attr("transform", "translate(1193,888) rotate(-90)").attr("text-anchor", "middle")
    .attr("font-family", SANS).attr("font-size", 21).attr("fill", "#111").text("Relative humidity (%)");
  svg.append("text").attr("x", 600).attr("y", 1116).attr("text-anchor", "middle")
    .attr("font-family", SANS).attr("font-size", 29).attr("fill", "#111").text("Date and time in 2016");
}
</script>
</body>
</html>
